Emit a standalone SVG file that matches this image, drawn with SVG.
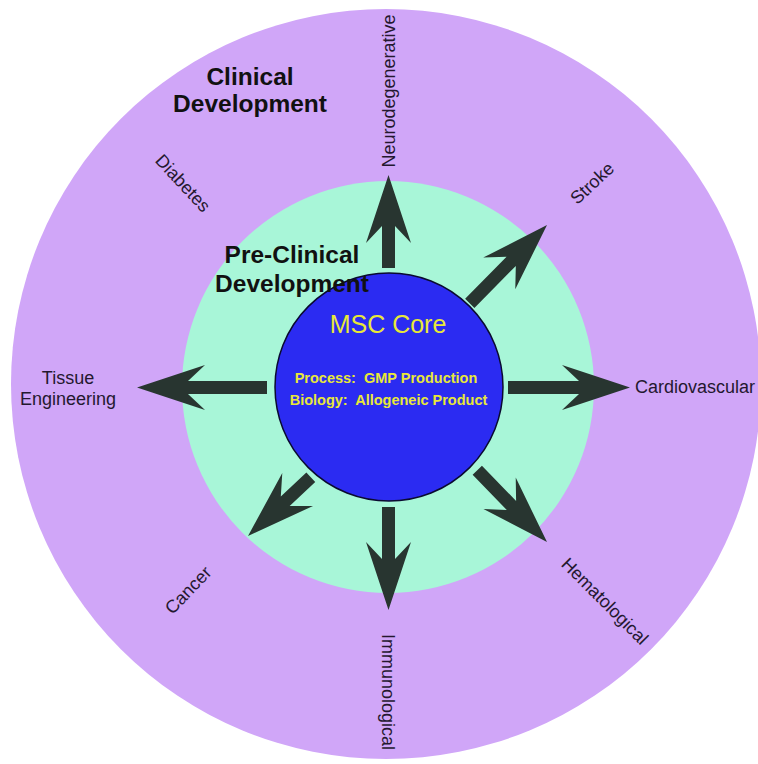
<svg xmlns="http://www.w3.org/2000/svg" width="758" height="764" viewBox="0 0 758 764">
<style>
.lbl{font-family:"Liberation Sans",Arial,sans-serif;font-size:18px;fill:#24182f;text-anchor:middle}
.big{font-family:"Liberation Sans",Arial,sans-serif;font-size:24.5px;font-weight:bold;fill:#111;text-anchor:middle}
.yel{font-family:"Liberation Sans",Arial,sans-serif;fill:#e8e838;text-anchor:middle}
.arr{fill:#283530}
</style>
<rect width="758" height="764" fill="#ffffff"/>
<g id="clinical">
<circle cx="386" cy="384" r="375" fill="#d0a6f8"/>
<text class="big" x="250" y="85">Clinical</text>
<text class="big" x="250" y="112">Development</text>
</g>
<g id="preclinical">
<circle cx="388" cy="387" r="206" fill="#a8f6d8"/>
</g>
<g id="connectors">
<polygon class="arr" transform="translate(388.5,175) rotate(-90)" points="0,0 -68,-22.5 -51,-6.5 -93,-6.5 -93,6.5 -51,6.5 -68,22.5"/>
<polygon class="arr" transform="translate(547,225) rotate(-45.4)" points="0,0 -68,-22.5 -51,-6.5 -110,-6.5 -110,6.5 -51,6.5 -68,22.5"/>
<polygon class="arr" transform="translate(630,387.5) rotate(0)" points="0,0 -68,-22.5 -51,-6.5 -122,-6.5 -122,6.5 -51,6.5 -68,22.5"/>
<polygon class="arr" transform="translate(547,542) rotate(45.8)" points="0,0 -68,-22.5 -51,-6.5 -100,-6.5 -100,6.5 -51,6.5 -68,22.5"/>
<polygon class="arr" transform="translate(388.5,610) rotate(90)" points="0,0 -68,-22.5 -51,-6.5 -103,-6.5 -103,6.5 -51,6.5 -68,22.5"/>
<polygon class="arr" transform="translate(248,536) rotate(136.9)" points="0,0 -68,-22.5 -51,-6.5 -86,-6.5 -86,6.5 -51,6.5 -68,22.5"/>
<polygon class="arr" transform="translate(137,387.5) rotate(180)" points="0,0 -68,-22.5 -51,-6.5 -130,-6.5 -130,6.5 -51,6.5 -68,22.5"/>
</g>
<g id="core">
<circle cx="389" cy="387" r="114" fill="#2b2bf2" stroke="#0a0a30" stroke-width="1.5"/>
<text class="yel" x="388" y="333" font-size="25">MSC Core</text>
<text class="yel" x="386" y="383" font-size="14.5" font-weight="bold" xml:space="preserve">Process:  GMP Production</text>
<text class="yel" x="388.5" y="405" font-size="14.5" font-weight="bold" xml:space="preserve">Biology:  Allogeneic Product</text>
</g>
<g id="preclinical-label">
<text class="big" x="292" y="263">Pre-Clinical</text>
<text class="big" x="292" y="292">Development</text>
</g>
<g id="neurodegenerative">
<text class="lbl" font-size="19" transform="translate(388.5,91) rotate(-90)" dy="0.35em">Neurodegenerative</text>
</g>
<g id="stroke">
<text class="lbl" transform="translate(592,183) rotate(-43)" dy="0.35em">Stroke</text>
</g>
<g id="cardiovascular">
<text class="lbl" font-size="19" x="635" y="393" style="text-anchor:start">Cardiovascular</text>
</g>
<g id="hematological">
<text class="lbl" transform="translate(605,601) rotate(45)" dy="0.35em">Hematological</text>
</g>
<g id="immunological">
<text class="lbl" font-size="19" transform="translate(388.5,692) rotate(90)" dy="0.35em">Immunological</text>
</g>
<g id="cancer">
<text class="lbl" transform="translate(188,590) rotate(-46)" dy="0.35em">Cancer</text>
</g>
<g id="tissue-engineering">
<text class="lbl" font-size="18.5" x="68" y="384">Tissue</text>
<text class="lbl" font-size="18.5" x="68" y="405">Engineering</text>
</g>
<g id="diabetes">
<text class="lbl" transform="translate(183,183) rotate(47)" dy="0.35em">Diabetes</text>
</g>
</svg>
